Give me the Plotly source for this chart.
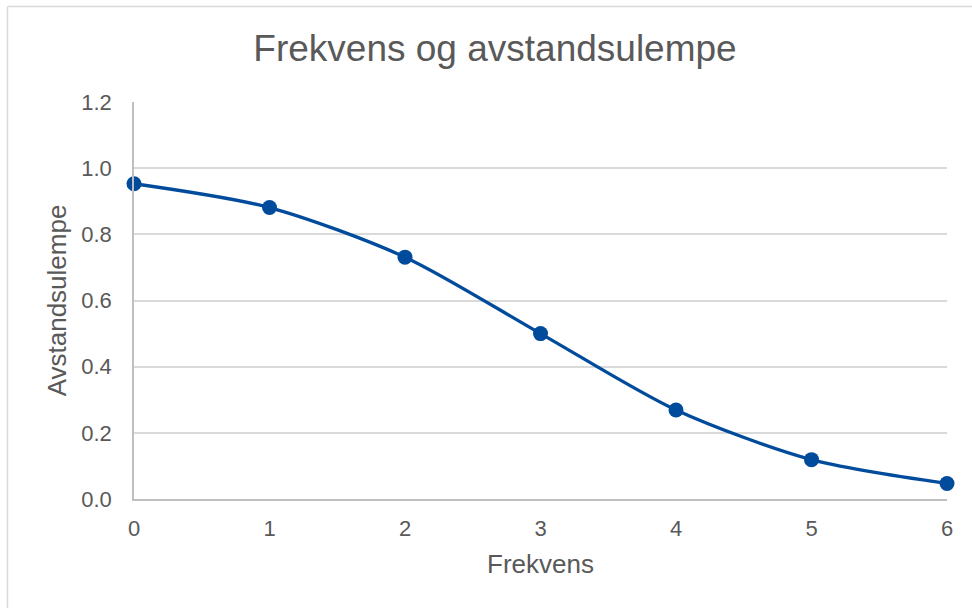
import plotly.graph_objects as go

frekvens = [0, 1, 2, 3, 4, 5, 6]
avstandsulempe = [0.953, 0.881, 0.731, 0.500, 0.269, 0.119, 0.047]
y_ticks = [0.0, 0.2, 0.4, 0.6, 0.8, 1.0, 1.2]

L, R, T, B = 134, 25, 102, 109
W, H = 972, 608
pw, ph = W - L - R, H - T - B

fig = go.Figure()
fig.add_trace(go.Scatter(
    x=frekvens, y=avstandsulempe, mode="lines+markers",
    line=dict(color="#004B9B", width=3.3, shape="spline", smoothing=0.8),
    marker=dict(color="#004B9B", size=15),
    showlegend=False, cliponaxis=False,
))

font_color = "#595959"
fx = lambda px: (px - L) / pw
fy = lambda py: (H - B - py) / ph
fig.update_layout(
    width=W, height=H,
    margin=dict(l=L, r=R, t=T, b=B),
    paper_bgcolor="white", plot_bgcolor="white",
    font=dict(family="Liberation Sans, Arial", color=font_color, size=22),
    title=dict(text="Frekvens og avstandsulempe", x=495 / W, xanchor="center",
               y=1 - 48 / H, yanchor="middle", font=dict(size=37, color=font_color)),
    xaxis=dict(range=[0, 6], tickvals=frekvens, showgrid=False, zeroline=False,
               showline=True, linecolor="#bfbfbf", linewidth=1.5, ticks="",
               ticklabelstandoff=9,
               title=dict(text="Frekvens", standoff=15, font=dict(size=26)),
               tickfont=dict(size=22)),
    yaxis=dict(range=[0, 1.2], tickvals=y_ticks, tickformat=".1f", showgrid=True,
               gridcolor="#d9d9d9", gridwidth=1.5, zeroline=False,
               showline=True, linecolor="#bfbfbf", linewidth=1.5, ticks="",
               ticklabelstandoff=16,
               title=dict(text="Avstandsulempe", standoff=7, font=dict(size=26)),
               tickfont=dict(size=22)),
    shapes=[
        dict(type="line", xref="paper", yref="paper",
             x0=fx(7.5), x1=fx(7.5), y0=fy(H + 5), y1=fy(6.5),
             line=dict(color="#d9d9d9", width=1.5)),
        dict(type="line", xref="paper", yref="paper",
             x0=fx(7.5), x1=fx(W + 5), y0=fy(6.5), y1=fy(6.5),
             line=dict(color="#d9d9d9", width=1.5)),
    ],
)
fig.write_html("out.html", config={"displayModeBar": False},
               post_script="document.body.style.margin='0';")
